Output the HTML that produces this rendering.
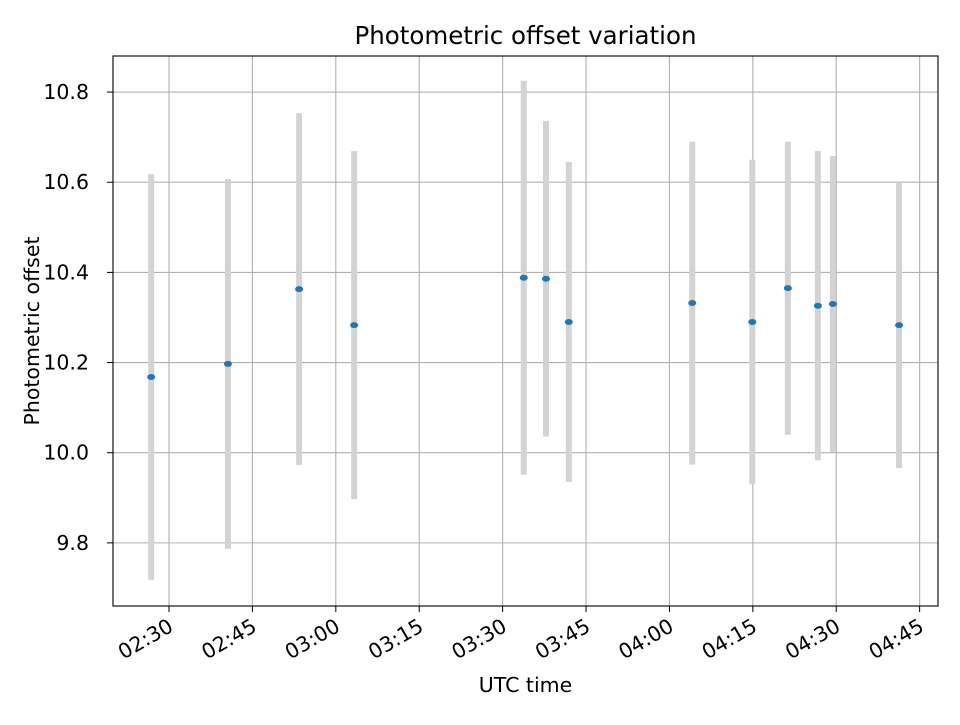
<!DOCTYPE html>
<html><head><meta charset="utf-8"><style>
body{margin:0;background:#fff}
svg text{font-family:"DejaVu Sans","Liberation Sans",sans-serif;fill:#000}
</style></head><body>
<svg id="chart" width="960" height="720" xmlns="http://www.w3.org/2000/svg">
<rect width="960" height="720" fill="#fff"/>
<g id="grid"></g><g id="bars"></g><g id="pts"></g><g id="axes"></g>
</svg>
<script>
// minutes after 02:30 UTC
const times = [-3.2, 10.6, 23.4, 33.3, 63.8, 67.8, 71.9, 94.1, 104.9, 111.3, 116.7, 119.4, 131.3];
const offsets = [10.168, 10.197, 10.363, 10.283, 10.388, 10.386, 10.290, 10.332, 10.290, 10.365, 10.326, 10.330, 10.283];
const errors = [0.45, 0.41, 0.39, 0.386, 0.437, 0.35, 0.355, 0.358, 0.36, 0.325, 0.343, 0.328, 0.317];
const xTickLabels = ["02:30","02:45","03:00","03:15","03:30","03:45","04:00","04:15","04:30","04:45"];
const yTickLabels = ["9.8","10.0","10.2","10.4","10.6","10.8"];

const L=113,R=938,T=56,B=606;
const xMin=-10.07,xMax=138.3,yMin=9.660,yMax=10.88;
const sx=v=>L+(v-xMin)/(xMax-xMin)*(R-L);
const sy=v=>B-(v-yMin)/(yMax-yMin)*(B-T);
const NS="http://www.w3.org/2000/svg";
function mk(tag,attrs,parent){const e=document.createElementNS(NS,tag);for(const k in attrs)e.setAttribute(k,attrs[k]);parent.appendChild(e);return e;}
const grid=document.getElementById('grid'),bars=document.getElementById('bars'),pts=document.getElementById('pts'),axes=document.getElementById('axes');

xTickLabels.forEach((lab,i)=>{
  const x=sx(i*15);
  const g=mk('line',{x1:x,x2:x,y1:T,y2:B,stroke:'#b0b0b0','stroke-width':1.1},grid);
  
  
  const t=mk('line',{x1:x,x2:x,y1:B,y2:B+6,stroke:'#000','stroke-width':1},axes);
  
  
  const ax=x-2, ay=B+11;
  const tx=mk('text',{x:ax,y:ay,'font-size':20.5,'text-anchor':'end',transform:`rotate(-30 ${ax} ${ay})`,'dominant-baseline':'hanging'},axes);
  tx.textContent=lab;
  
  
});
yTickLabels.forEach(lab=>{
  const y=sy(parseFloat(lab));
  const g=mk('line',{x1:L,x2:R,y1:y,y2:y,stroke:'#b0b0b0','stroke-width':1.1},grid);
  
  
  const t=mk('line',{x1:L-6,x2:L,y1:y,y2:y,stroke:'#000','stroke-width':1},axes);
  
  
  const tx=mk('text',{x:L-24,y:y+7,'font-size':20.5,'text-anchor':'end'},axes);
  tx.textContent=lab;
  
  
});
times.forEach((t,i)=>{
  const x=sx(t);
  const b=mk('line',{x1:x,x2:x,y1:sy(offsets[i]+errors[i]),y2:sy(offsets[i]-errors[i]),stroke:'#d3d3d3','stroke-width':6},bars);
  
  
  const p=mk('ellipse',{cx:x,cy:sy(offsets[i]),rx:4,ry:3,fill:'#1f77b4'},pts);
  
  
});
const fr=mk('rect',{x:L,y:T,width:R-L,height:B-T,fill:'none',stroke:'#000','stroke-width':1.1},axes);


const ti=mk('text',{x:(L+R)/2,y:44,'font-size':24.5,'text-anchor':'middle'},axes);
ti.textContent='Photometric offset variation';


const xl=mk('text',{x:(L+R)/2,y:692,'font-size':20.5,'text-anchor':'middle'},axes);
xl.textContent='UTC time';


const yl=mk('text',{x:39,y:331,'font-size':20.5,'text-anchor':'middle',transform:`rotate(-90 39 331)`},axes);
yl.textContent='Photometric offset';


</script>
</body></html>
